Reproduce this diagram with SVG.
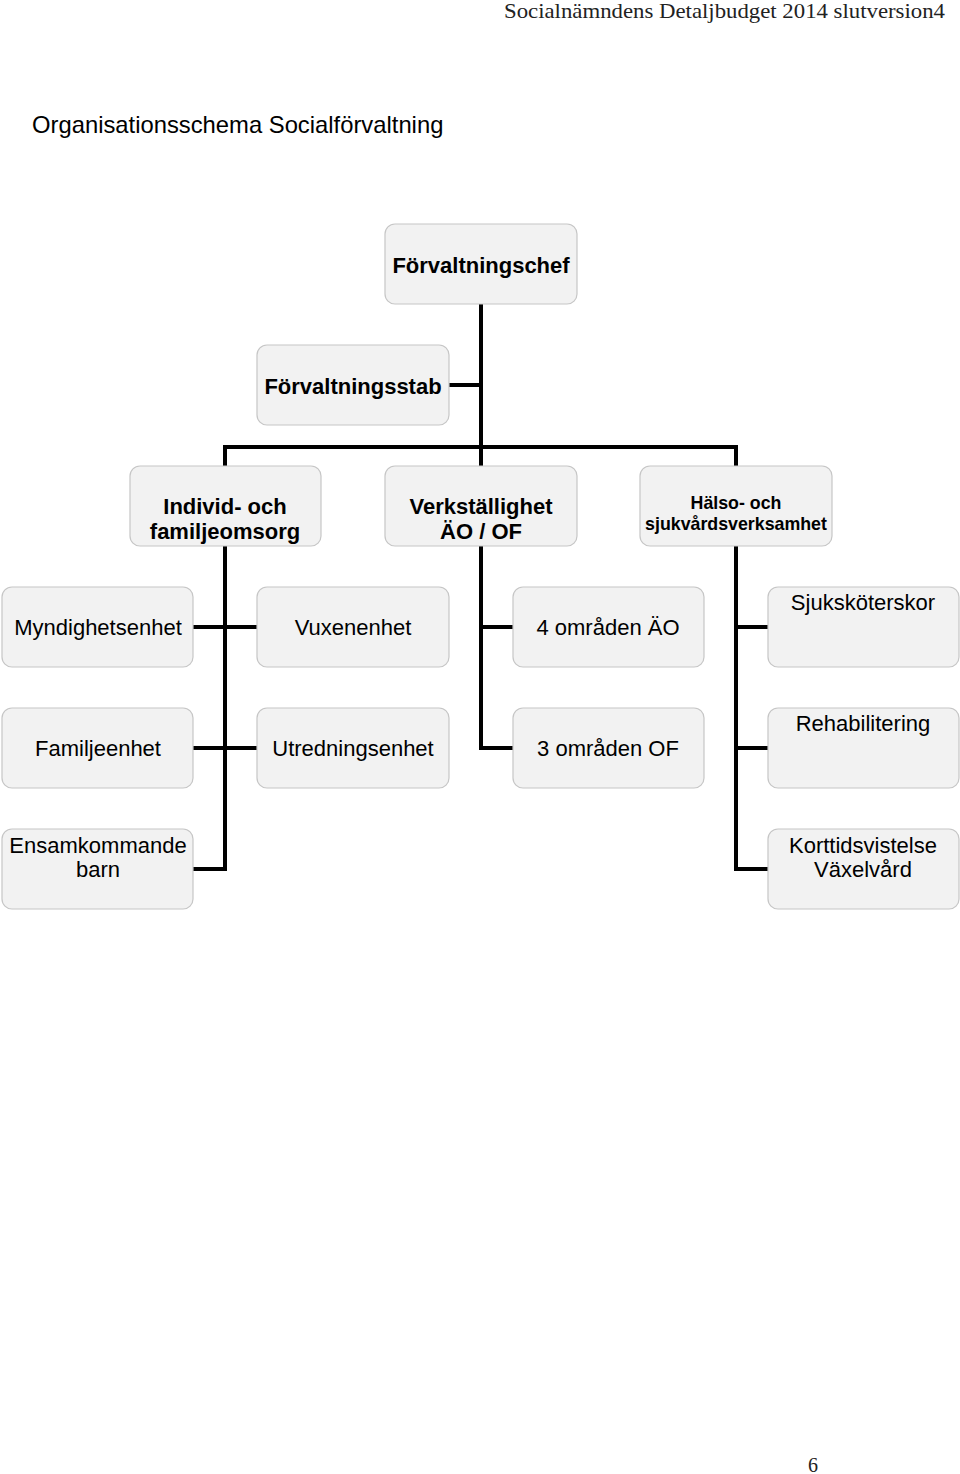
<svg xmlns="http://www.w3.org/2000/svg" width="960" height="1474" viewBox="0 0 960 1474">
<style>
.box{fill:#f2f2f2;stroke:#c6c6c6;stroke-width:1.2}
.t{font-family:"Liberation Sans",Arial,sans-serif;font-size:22px;fill:#000;text-anchor:middle}
.b{font-weight:bold}
.s{font-size:17.8px}
.c{fill:none;stroke:#000;stroke-width:4;stroke-linejoin:miter;stroke-linecap:butt}
.serif{font-family:"Liberation Serif","Times New Roman",serif;fill:#222}
</style>
<rect width="960" height="1474" fill="#fff"/>
<text class="serif" x="945" y="18" font-size="21" text-anchor="end" textLength="441" lengthAdjust="spacingAndGlyphs">Socialnämndens Detaljbudget 2014 slutversion4</text>
<text x="32" y="133" font-family="Liberation Sans,Arial,sans-serif" font-size="23.8" fill="#000">Organisationsschema Socialförvaltning</text>
<text class="serif" x="813" y="1472" font-size="20" text-anchor="middle">6</text>

<g id="connectors">
<path class="c" d="M481,304 V447 M449,385 H481 M225,466 V447 H736 V466 M481,447 V466"/>
<path class="c" d="M225,546 V869 H193 M193,627 H257 M193,748 H257"/>
<path class="c" d="M481,546 V748 H513 M481,627 H513"/>
<path class="c" d="M736,546 V869 H768 M736,627 H768 M736,748 H768"/>
</g>

<g id="n-forvaltningschef"><rect class="box" x="385" y="224" width="192" height="80" rx="10"/><text class="t b" x="481" y="273">Förvaltningschef</text></g>
<g id="n-forvaltningsstab"><rect class="box" x="257" y="345" width="192" height="80" rx="10"/><text class="t b" x="353" y="394">Förvaltningsstab</text></g>
<g id="n-ifo"><rect class="box" x="130" y="466" width="191" height="80" rx="10"/><text class="t b" x="225" y="514">Individ- och</text><text class="t b" x="225" y="539">familjeomsorg</text></g>
<g id="n-verk"><rect class="box" x="385" y="466" width="192" height="80" rx="10"/><text class="t b" x="481" y="514">Verkställighet</text><text class="t b" x="481" y="539">ÄO / OF</text></g>
<g id="n-halso"><rect class="box" x="640" y="466" width="192" height="80" rx="10"/><text class="t b s" x="736" y="509">Hälso- och</text><text class="t b s" x="736" y="530">sjukvårdsverksamhet</text></g>

<g id="n-myndighet"><rect class="box" x="2" y="587" width="191" height="80" rx="10"/><text class="t" x="98" y="635">Myndighetsenhet</text></g>
<g id="n-vuxen"><rect class="box" x="257" y="587" width="192" height="80" rx="10"/><text class="t" x="353" y="635">Vuxenenhet</text></g>
<g id="n-4ao"><rect class="box" x="513" y="587" width="191" height="80" rx="10"/><text class="t" x="608" y="635">4 områden ÄO</text></g>
<g id="n-sjuk"><rect class="box" x="768" y="587" width="191" height="80" rx="10"/><text class="t" x="863" y="610">Sjuksköterskor</text></g>

<g id="n-familj"><rect class="box" x="2" y="708" width="191" height="80" rx="10"/><text class="t" x="98" y="756">Familjeenhet</text></g>
<g id="n-utred"><rect class="box" x="257" y="708" width="192" height="80" rx="10"/><text class="t" x="353" y="756">Utredningsenhet</text></g>
<g id="n-3of"><rect class="box" x="513" y="708" width="191" height="80" rx="10"/><text class="t" x="608" y="756">3 områden OF</text></g>
<g id="n-rehab"><rect class="box" x="768" y="708" width="191" height="80" rx="10"/><text class="t" x="863" y="731">Rehabilitering</text></g>

<g id="n-ensam"><rect class="box" x="2" y="829" width="191" height="80" rx="10"/><text class="t" x="98" y="853">Ensamkommande</text><text class="t" x="98" y="877">barn</text></g>
<g id="n-kort"><rect class="box" x="768" y="829" width="191" height="80" rx="10"/><text class="t" x="863" y="853">Korttidsvistelse</text><text class="t" x="863" y="877">Växelvård</text></g>
</svg>
